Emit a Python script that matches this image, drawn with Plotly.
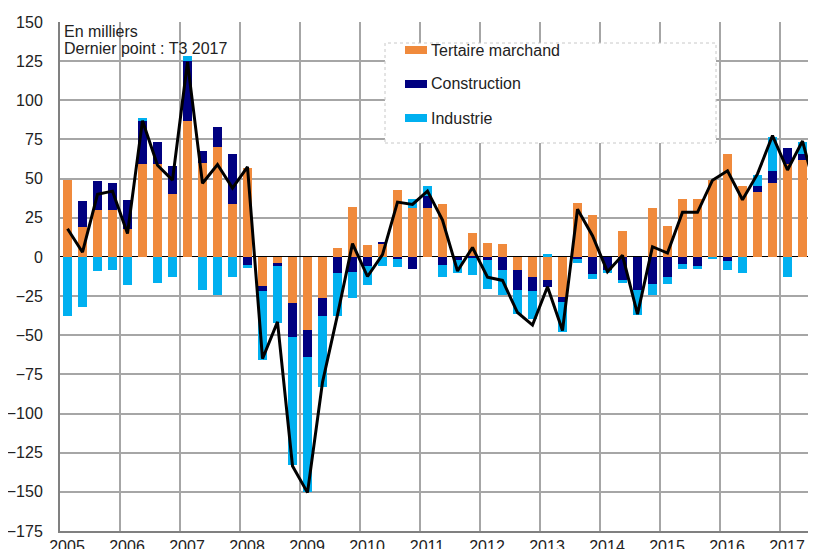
import plotly.graph_objects as go

# ---- Data (milliers d'emplois, variation trimestrielle) ----
years = list(range(2005, 2018))
quarters = [f"{y}T{q}" for y in range(2005, 2018) for q in range(1, 5)][:51]

tertiaire = [49, 19, 30, 30, 18, 59.5, 59.5, 40,
             87, 60, 70, 34, 57, -18.5, -4.5, -29.5,
             -46.5, -26, 5.5, 32, 7.5, 8, 43, 31,
             31, 34, 0, 15.5, 9, 8.5, -8.5, -12.5,
             -15, -25.5, 34.5, 26.5, 0, 16.5, 0, 31.5,
             20, 37, 37, 49, 66, 45.5, 41.5, 47,
             59.5, 62, None]
construction = [0, 17, 18.5, 17, 18.5, 27.5, 14, 18,
                38, 7.5, 13, 32, -5, -3, -1, -21.5,
                -17.5, -11.5, -10, -9.5, -5.5, 1.5, -1.5, -8,
                8, -5, -2, -1, -2, -8.5, -12.5, -9,
                -4, -3, -1.5, -11, -8.5, -15, -21, -17.5,
                -13, -4.5, -5.5, 0, -2.5, 0, 4, 8,
                10, 4, None]
industrie = [-38, -32, -9, -8.5, -18, 1.7, -16.5, -12.5,
             3.5, -21, -24.5, -13, -2, -44, -36.5, -82,
             -86, -45.5, -27.5, -16.5, -12.5, -6, -5, 6,
             6, -8, -8.5, -10.5, -18.5, -16, -15.5, -18,
             2, -19.5, -2.5, -3, -2, -1.5, -16, -7,
             -4, -3.5, -2.5, -1.5, -6, -10, 6.5, 21.5,
             -12.5, 7.5, None]
total = [18, 3, 40, 42, 15, 87, 58.5, 49,
         124.5, 47, 59, 44, 57.5, -65, -41.5, -133.5,
         -150.5, -80, -37, 8.5, -12.5, 1.5, 35, 33.5,
         42, 23.5, -9, 6, -13, -15, -35.5, -43.5,
         -19, -47, 30.5, 13.5, -9.5, 1, -36.5, 6.5,
         2.5, 28.5, 28.5, 49, 55, 36.5, 53, 77.5,
         55.5, 74, 38]

series_names = ["Tertaire marchand", "Construction", "Industrie"]
series_colors = ["#F08A3C", "#000080", "#00B0F0"]
y_ticks = list(range(-175, 151, 25))

# x position of each quarter (centre of the quarter)
xpos = [int(q[:4]) + (int(q[-1]) - 1) * 0.25 + 0.125 for q in quarters]

FONT = "Liberation Sans, Arial, sans-serif"

fig = go.Figure()
for name, vals, col in zip(series_names, [tertiaire, construction, industrie], series_colors):
    fig.add_trace(go.Bar(x=xpos, y=vals, name=name, marker=dict(color=col, line=dict(width=0)),
                         width=0.135, showlegend=False))
fig.add_trace(go.Scatter(x=xpos, y=total, mode="lines", name="Total",
                         line=dict(color="black", width=3), showlegend=False))

# the page body has an 8px margin: the figure is drawn 8px right/down of the page corner
OFF = 8
W, H = 816 - OFF, 549 - OFF
ML, MR, MT, MB = 60 - OFF, 0, 22 - OFF, 18
pw, ph = W - ML - MR, H - MT - MB


def px(x):  # page pixel -> paper
    return (x - OFF - ML) / pw


def py(y):  # page pixel -> paper
    return (H - MB - (y - OFF)) / ph


shapes = []
annotations = []
# manual legend
shapes.append(dict(type="rect", xref="paper", yref="paper", x0=px(385), x1=px(716), y0=py(143), y1=py(43),
                   line=dict(color="#C8C8C8", width=1, dash="dot"), fillcolor="white", layer="above"))
for i, (name, col) in enumerate(zip(series_names, series_colors)):
    cy = 50 + i * 34
    shapes.append(dict(type="rect", xref="paper", yref="paper", x0=px(405), x1=px(427),
                       y0=py(cy + 4), y1=py(cy - 4), line=dict(width=0), fillcolor=col, layer="above"))
    annotations.append(dict(xref="paper", yref="paper", x=px(429), y=py(cy), text=name, showarrow=False,
                            xanchor="left", yanchor="middle", font=dict(family=FONT, size=16, color="#222")))

annotations.append(dict(xref="paper", yref="paper", x=px(62), y=py(21), text="En milliers", showarrow=False,
                        xanchor="left", yanchor="top", font=dict(family=FONT, size=16, color="#222")))
annotations.append(dict(xref="paper", yref="paper", x=px(62), y=py(38), text="Dernier point : T3 2017",
                        showarrow=False, xanchor="left", yanchor="top",
                        font=dict(family=FONT, size=16, color="#222")))

fig.update_layout(
    width=W, height=H,
    margin=dict(l=ML, r=MR, t=MT, b=MB, autoexpand=False),
    barmode="relative",
    bargap=0,
    plot_bgcolor="white", paper_bgcolor="white",
    font=dict(family=FONT, size=16, color="#222"),
    shapes=shapes, annotations=annotations,
)
fig.update_xaxes(
    range=[2005, 2017.6], automargin=False,
    tickmode="array", tickvals=years, ticktext=[str(y) for y in years],
    ticklabelshift=7,
    showgrid=True, gridcolor="#A6A6A6", gridwidth=2,
    showline=True, linecolor="#808080", linewidth=2,
    ticks="", zeroline=False,
)
fig.update_yaxes(
    range=[-175, 150], automargin=False,
    tickmode="array", tickvals=y_ticks,
    showgrid=True, gridcolor="#A6A6A6", gridwidth=2,
    showline=True, linecolor="#808080", linewidth=2,
    ticks="outside", ticklen=12, tickcolor="rgba(0,0,0,0)",
    zeroline=True, zerolinecolor="black", zerolinewidth=1,
)

fig.write_html("out.html")
